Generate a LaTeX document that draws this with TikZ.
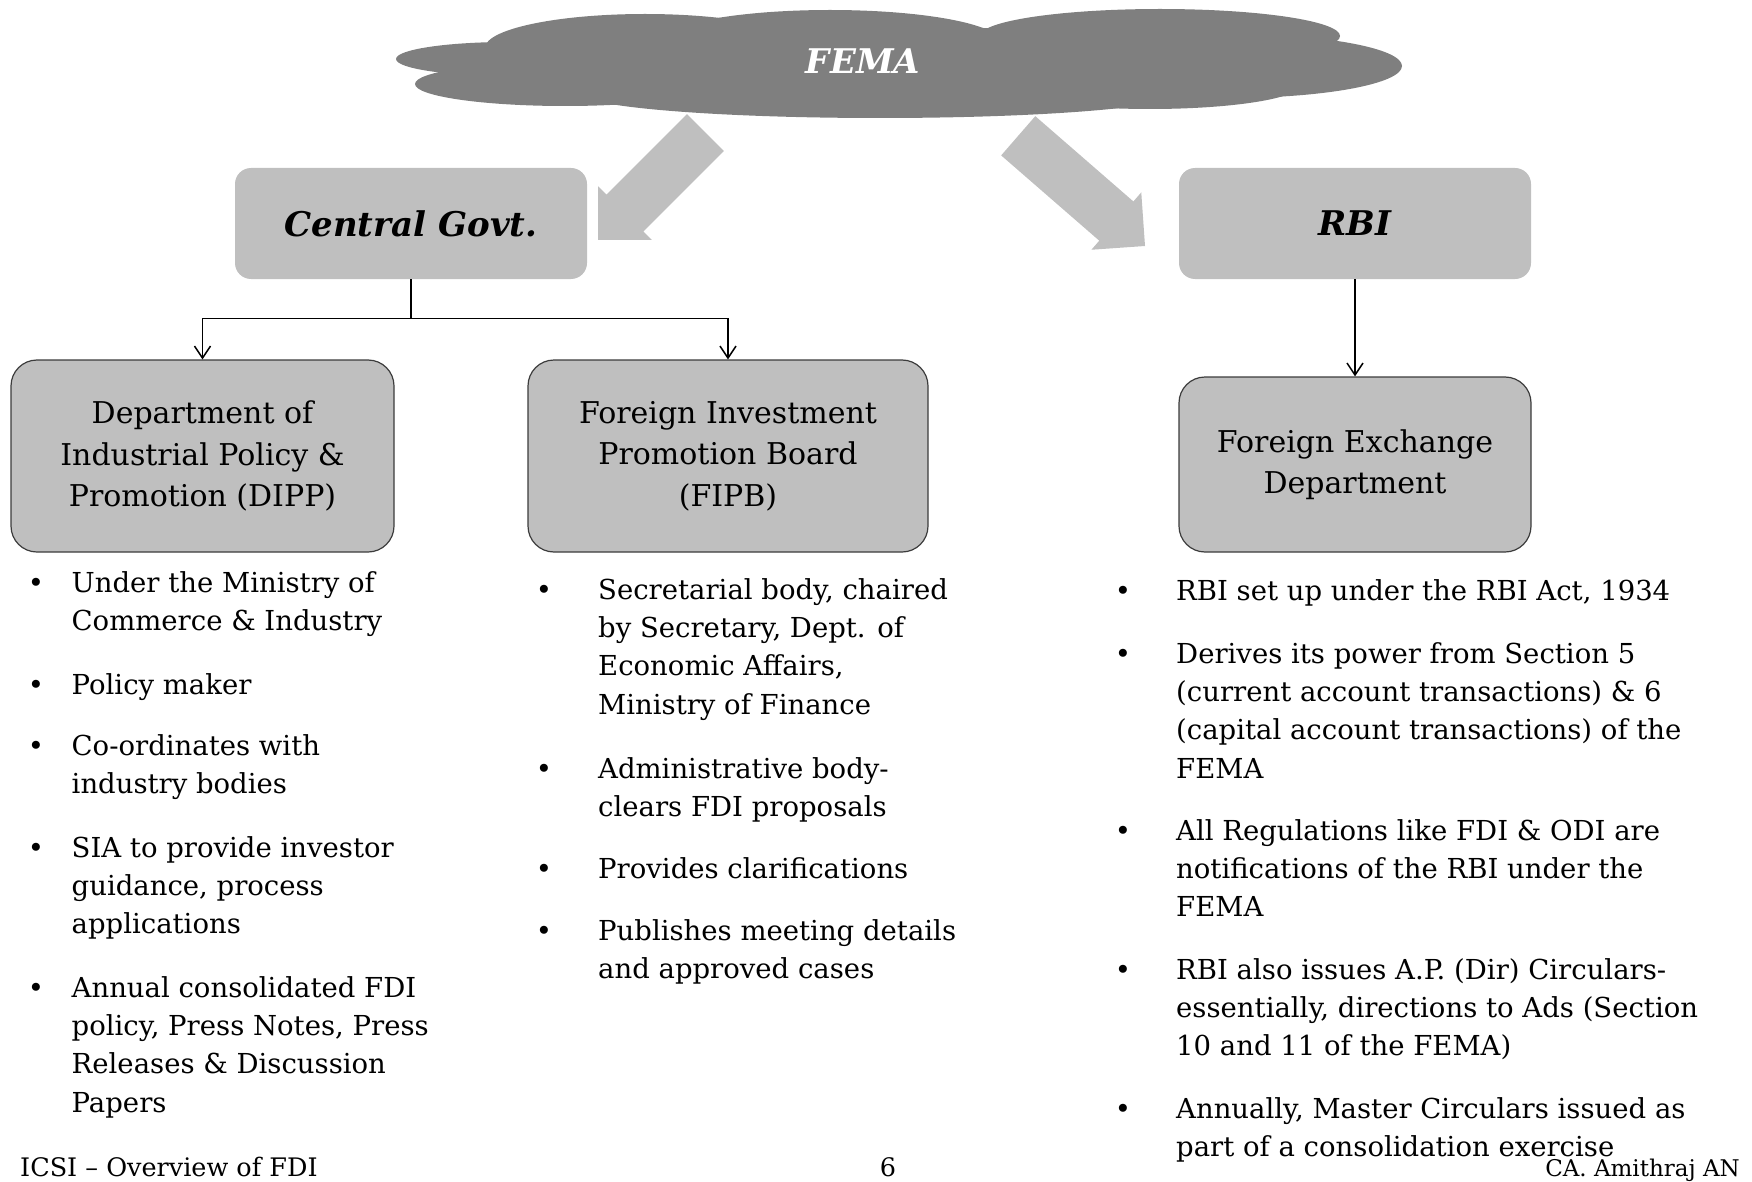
\documentclass[tikz,border=0pt]{standalone}
\usepackage{fontspec}
\setmainfont{DejaVu Serif}
\usetikzlibrary{arrows.meta}
\definecolor{boxgray}{RGB}{191,191,191}
\definecolor{cloudgray}{RGB}{127,127,127}
\definecolor{bordergray}{RGB}{60,60,60}
\newcommand{\bodyfont}{\fontsize{27.5}{38.4}\selectfont}
\newcommand{\boxfont}{\fontsize{30}{41.3}\selectfont}
\newcommand{\lns}[1]{\begin{tabular}[t]{@{}l@{}}#1\end{tabular}}
\tikzset{
  topbox/.style={fill=boxgray, rounded corners=16pt, minimum width=352pt, minimum height=111pt, inner sep=0pt, font=\fontsize{34}{40}\selectfont\bfseries\itshape},
  subbox/.style={fill=boxgray, draw=bordergray, line width=1.2pt, rounded corners=26pt, inner sep=0pt, align=center, font=\boxfont},
  item/.style={anchor=base west, inner sep=0pt, font=\bodyfont},
  bul/.style={anchor=base, inner sep=0pt, font=\bodyfont},
  conn/.style={line width=1.5pt, -{Straight Barb[length=12pt,width=16pt,line width=1.5pt]}},
  bigarrow/.style={fill=boxgray},
  lobe/.style={fill=cloudgray},
  foot/.style={inner sep=0pt, font=\fontsize{25.5}{30}\selectfont}
}
\begin{document}
\begin{tikzpicture}[x=1pt,y=-1pt]
\useasboundingbox (0,0) rectangle (1752,1182);

% big block arrows
\coordinate (ltip) at (598,240);
\coordinate (rtip) at (1145,246);
\begin{scope}[shift={(ltip)}, rotate=225]
  \fill[bigarrow] (0,0) -- (-38,38) -- (-38,26) -- (-152,26) -- (-152,-26) -- (-38,-26) -- (-38,-38) -- cycle;
\end{scope}
\begin{scope}[shift={(rtip)}, rotate=-41]
  \fill[bigarrow] (0,0) -- (-38,38) -- (-38,26) -- (-168,26) -- (-168,-26) -- (-38,-26) -- (-38,-38) -- cycle;
\end{scope}

% cloud
\fill[lobe] (508,59) ellipse [x radius=112pt, y radius=17pt];
\fill[lobe] (565,84) ellipse [x radius=150pt, y radius=22pt];
\fill[lobe] (645,48) ellipse [x radius=160pt, y radius=34pt];
\fill[lobe] (830,42) ellipse [x radius=170pt, y radius=32pt];
\fill[lobe] (880,66) ellipse [x radius=330pt, y radius=40pt];
\fill[lobe] (880,93) ellipse [x radius=300pt, y radius=25pt];
\fill[lobe] (1160,36) ellipse [x radius=180pt, y radius=27pt];
\fill[lobe] (1230,66) ellipse [x radius=172pt, y radius=32pt];
\fill[lobe] (1150,85) ellipse [x radius=150pt, y radius=24pt];
\node[text=white, font=\fontsize{34}{40}\selectfont\bfseries\itshape, inner sep=0pt] (fema) at (863,61) {FEMA};

% top boxes
\node[topbox] (cg) at (411,223.5) {Central Govt.};
\node[topbox] (rbi) at (1355,223.5) {RBI};

% sub boxes
\node[subbox, minimum width=383pt, minimum height=192pt] (dipp) at (202.5,456) {Department of\\Industrial Policy \&\\Promotion (DIPP)};
\node[subbox, minimum width=400pt, minimum height=192pt] (fipb) at (728,456) {Foreign Investment\\Promotion Board\\(FIPB)};
\node[subbox, minimum width=352pt, minimum height=175pt] (fed) at (1355,464.5) {Foreign Exchange\\Department};

% connectors
\draw[line width=1.5pt] (cg.south) -- ++(0,39.5) coordinate (split);
\draw[conn] (split) -| (dipp.north);
\draw[conn] (split) -| (fipb.north);
\draw[conn] (rbi.south) -- (fed.north);

% left column
\node[bul] (b1) at (36,592) {•};
\node[item] (l1) at (71.5,592) {\lns{Under the Ministry of\\Commerce \& Industry}};
\node[bul] (b2) at (36,694) {•};
\node[item] (l2) at (71.5,694) {Policy maker};
\node[bul] (b3) at (36,755) {•};
\node[item] (l3) at (71.5,755) {\lns{Co-ordinates with\\industry bodies}};
\node[bul] (b4) at (36,857) {•};
\node[item] (l4) at (71.5,857) {\lns{SIA to provide investor\\guidance, process\\applications}};
\node[bul] (b5) at (36,997) {•};
\node[item] (l5) at (71.5,997) {\lns{Annual consolidated FDI\\policy, Press Notes, Press\\Releases \& Discussion\\Papers}};

% middle column
\node[bul] (b6) at (544,599) {•};
\node[item] (m1) at (598,599) {\lns{Secretarial body, chaired\\by Secretary, Dept. of\\Economic Affairs,\\Ministry of Finance}};
\node[bul] (b7) at (544,778) {•};
\node[item] (m2) at (598,778) {\lns{Administrative body-\\clears FDI proposals}};
\node[bul] (b8) at (544,878) {•};
\node[item] (m3) at (598,878) {Provides clarifications};
\node[bul] (b9) at (544,940) {•};
\node[item] (m4) at (598,940) {\lns{Publishes meeting details\\and approved cases}};

% right column
\node[bul] (b10) at (1123,600) {•};
\node[item] (r1) at (1176,600) {RBI set up under the RBI Act, 1934};
\node[bul] (b11) at (1123,663) {•};
\node[item] (r2) at (1176,663) {\lns{Derives its power from Section 5\\(current account transactions) \& 6\\(capital account transactions) of the\\FEMA}};
\node[bul] (b12) at (1123,840) {•};
\node[item] (r3) at (1176,840) {\lns{All Regulations like FDI \& ODI are\\notifications of the RBI under the\\FEMA}};
\node[bul] (b13) at (1123,979) {•};
\node[item] (r4) at (1176,979) {\lns{RBI also issues A.P. (Dir) Circulars-\\essentially, directions to Ads (Section\\10 and 11 of the FEMA)}};
\node[bul] (b14) at (1123,1118) {•};
\node[item] (r5) at (1176,1118) {\lns{Annually, Master Circulars issued as\\part of a consolidation exercise}};

% footer
\node[foot, anchor=base west] (f1) at (20,1176) {ICSI – Overview of FDI};
\node[foot, anchor=base] (f2) at (888,1176) {6};
\node[foot, anchor=base east, font=\fontsize{23}{28}\selectfont] (f3) at (1740,1176) {CA. Amithraj AN};
\end{tikzpicture}
\end{document}
